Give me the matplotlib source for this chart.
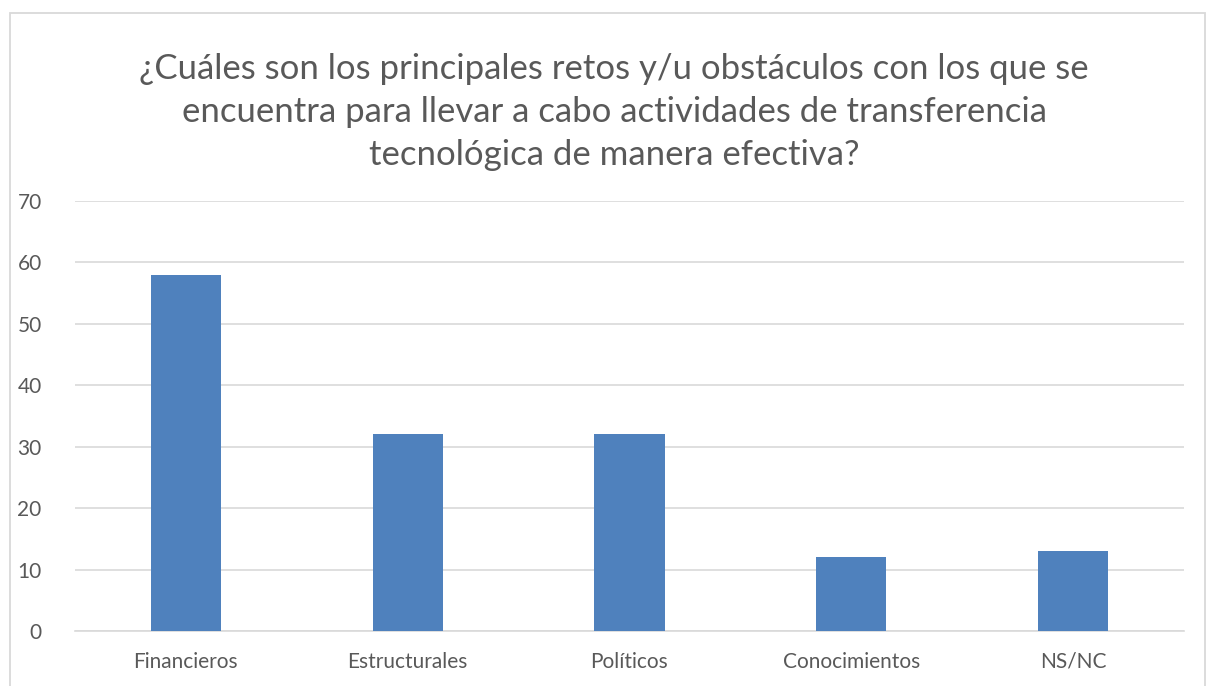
import matplotlib
matplotlib.use("Agg")
import matplotlib.pyplot as plt
from matplotlib.patches import Rectangle

categories = ["Financieros", "Estructurales", "Políticos", "Conocimientos", "NS/NC"]
values = [58, 32, 32, 12, 13]
yticks = [0, 10, 20, 30, 40, 50, 60, 70]
title = ("¿Cuáles son los principales retos y/u obstáculos con los que se\n"
         "encuentra para llevar a cabo actividades de transferencia\n"
         "tecnológica de manera efectiva?")

plt.rcParams['font.family'] = ['Lato', 'DejaVu Sans']
W, H = 1206, 686
fig = plt.figure(figsize=(W/100, H/100), dpi=100)
fig.patch.set_facecolor("white")

# chart border
fig.add_artist(Rectangle((10/W, -0.01), (1205-10)/W, (H-12.5)/H + 0.01,
                         transform=fig.transFigure, fill=False,
                         edgecolor="#D9D9D9", linewidth=1.3))

ax = fig.add_axes([75/W, (H-631)/H, (1184-75)/W, (631-201)/H])
x = list(range(len(categories)))
ax.bar(x, values, width=0.316, color="#4F81BD", zorder=3)
ax.set_xlim(-0.5, len(categories)-0.5)
ax.set_ylim(0, 70)
ax.set_yticks(yticks)
ax.set_xticks(x)
ax.set_xticklabels(categories)
ax.yaxis.grid(True, color="#D9D9D9", linewidth=1.2, zorder=0)
for s in ["top", "right", "left"]:
    ax.spines[s].set_visible(False)
ax.spines["bottom"].set_color("#D9D9D9")
ax.spines["bottom"].set_linewidth(1.2)
ax.tick_params(axis="both", length=0, labelsize=15, colors="#595959")
ax.tick_params(axis="y", pad=24)
ax.tick_params(axis="x", pad=15)
for lbl in ax.get_yticklabels():
    lbl.set_horizontalalignment("right")

fig.text(614/W, 1 - 112/H, title, ha="center", va="center", fontsize=25,
         color="#595959", linespacing=1.42, fontweight="normal")

fig.savefig("out.png", dpi=100, facecolor="white")
